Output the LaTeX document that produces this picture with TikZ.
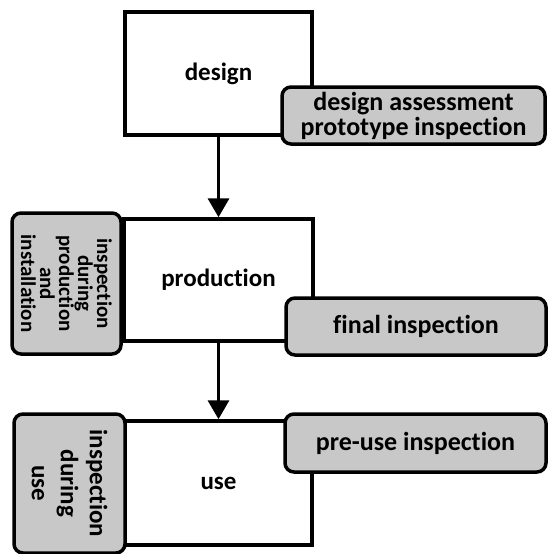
\documentclass[tikz,border=0pt]{standalone}
\usepackage{fontspec}
\setmainfont{Carlito}[Ligatures=NoCommon]
\usetikzlibrary{arrows.meta}
\definecolor{checkgray}{RGB}{200,200,200}
\tikzset{
	stage/.style = {draw, line width=3.5pt, fill=white, font=\fontsize{25}{28}\selectfont\bfseries},
	check/.style = {draw, line width=3.5pt, rounded corners=9pt, fill=checkgray, align=center, inner sep=0pt, font=\fontsize{26}{25}\selectfont\bfseries},
	flow/.style = {line width=3.5pt, -{Triangle[width=21pt,length=19pt]}}
}

\begin{document}
\begin{tikzpicture}[x=1pt, y=-1pt]
			\useasboundingbox (0,0) rectangle (547,554);
			\node(design) [stage, minimum width=187pt, minimum height=123pt] at (218.5,73.5) {design};
			\node(production) [stage, minimum width=189pt, minimum height=122pt] at (218.5,280) {production};
			\node(use) [stage, minimum width=187pt, minimum height=124pt] at (218.5,483) {use};
			%
			\draw[flow] (design) -- (production);
			\draw[flow] (production) -- (use);
			%
			\node(assess) [check, minimum width=263pt, minimum height=57pt] at (413.5,115.5) {design assessment\\prototype inspection};
			\node(final) [check, minimum width=260pt, minimum height=57pt] at (416,326.5) {final inspection};
			\node(preuse) [check, minimum width=261pt, minimum height=58pt] at (415.5,443) {pre-use inspection};
			\node(during) [check, rotate=-90, minimum width=141pt, minimum height=109pt, font=\fontsize{21}{19}\selectfont\bfseries] at (66.5,283.5) {inspection\\during\\production\\and\\installation};
			\node(inuse) [check, rotate=-90, minimum width=139pt, minimum height=111pt, font=\fontsize{25}{29}\selectfont\bfseries] at (69.5,483.5) {inspection\\during\\use};
\end{tikzpicture}
\end{document}
